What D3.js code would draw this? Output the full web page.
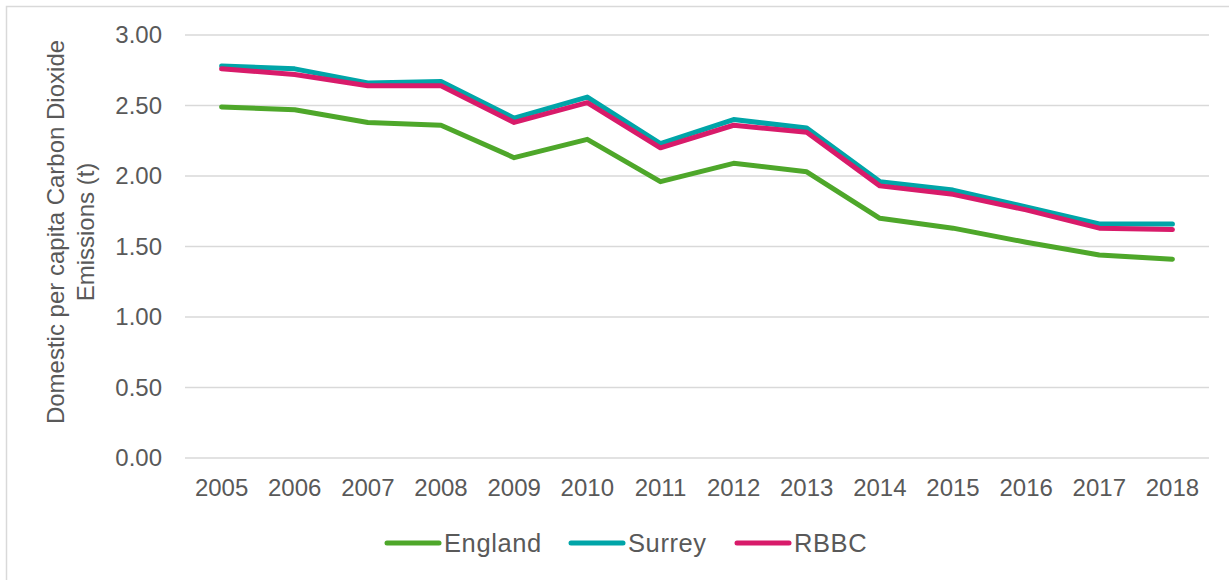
<!DOCTYPE html>
<html>
<head>
<meta charset="utf-8">
<script src="https://cdn.jsdelivr.net/npm/d3@7"></script>
<style>
  html, body { margin: 0; padding: 0; background: #fff; }
  svg { display: block; font-family: "Liberation Sans", Arial, sans-serif; }
</style>
</head>
<body>
<svg id="chart" width="1229" height="580"></svg>
<script>
const years = ["2005","2006","2007","2008","2009","2010","2011","2012","2013","2014","2015","2016","2017","2018"];
const england = [2.49, 2.47, 2.38, 2.36, 2.13, 2.26, 1.96, 2.09, 2.03, 1.70, 1.63, 1.53, 1.44, 1.41];
const surrey  = [2.78, 2.76, 2.66, 2.67, 2.41, 2.56, 2.23, 2.40, 2.34, 1.96, 1.90, 1.78, 1.66, 1.66];
const rbbc    = [2.76, 2.72, 2.64, 2.64, 2.38, 2.52, 2.20, 2.36, 2.31, 1.93, 1.87, 1.76, 1.63, 1.62];
const yTicks = [0, 0.5, 1, 1.5, 2, 2.5, 3];
const seriesNames = ["England", "Surrey", "RBBC"];
const seriesColors = ["#4ea72a", "#00a5a8", "#d81b6a"];
const yTitle = ["Domestic per capita Carbon Dioxide", "Emissions (t)"];

const series = [england, surrey, rbbc];
const svg = d3.select("#chart");
const textColor = "#595959";
const fontSize = "24px";

// frame
svg.append("rect").attr("x", 6.5).attr("y", 6.5).attr("width", 1240).attr("height", 600)
  .attr("fill", "none").attr("stroke", "#d9d9d9").attr("stroke-width", 1.5);

const plotLeft = 185, plotRight = 1209, plotTop = 35, plotBottom = 458;
const x = d3.scaleBand().domain(years).range([plotLeft, plotRight]);
const y = d3.scaleLinear().domain([0, 3]).range([plotBottom, plotTop]);

// gridlines
svg.append("g").selectAll("line").data(yTicks).join("line")
  .attr("x1", plotLeft).attr("x2", plotRight)
  .attr("y1", d => y(d)).attr("y2", d => y(d))
  .attr("stroke", "#d9d9d9").attr("stroke-width", 1.5);

// y axis labels
const yAxis = svg.append("g").attr("transform", `translate(${plotLeft},0)`)
  .call(d3.axisLeft(y).tickValues(yTicks).tickFormat(d3.format(".2f")).tickSize(0).tickPadding(23));
yAxis.select(".domain").remove();
yAxis.selectAll("text").attr("fill", textColor).style("font-size", fontSize)
  .style("font-family", "'Liberation Sans', Arial, sans-serif");

// x axis labels
const xAxis = svg.append("g").attr("transform", `translate(0,${plotBottom})`)
  .call(d3.axisBottom(x).tickSize(0).tickPadding(21));
xAxis.select(".domain").remove();
xAxis.selectAll("text").attr("fill", textColor).style("font-size", fontSize)
  .style("font-family", "'Liberation Sans', Arial, sans-serif");

// y title
const title = svg.append("text")
  .attr("transform", "translate(58,232) rotate(-90)")
  .attr("text-anchor", "middle").attr("fill", textColor)
  .style("font-size", fontSize);
title.selectAll("tspan").data(yTitle).join("tspan")
  .attr("x", 0).attr("dy", (d, i) => i === 0 ? 6 : 30)
  .text(d => d);

// lines
const line = d3.line()
  .x((d, i) => x(years[i]) + x.bandwidth() / 2)
  .y(d => y(d));
series.forEach((s, k) => {
  svg.append("path").datum(s)
    .attr("d", line)
    .attr("fill", "none")
    .attr("stroke", seriesColors[k])
    .attr("stroke-width", 5)
    .attr("stroke-linejoin", "round")
    .attr("stroke-linecap", "round");
});

// legend
const legendX = [385, 569, 735];
const legendY = 543;
const lg = svg.append("g");
seriesNames.forEach((n, k) => {
  lg.append("line").attr("x1", legendX[k] + 2).attr("x2", legendX[k] + 54)
    .attr("y1", legendY).attr("y2", legendY)
    .attr("stroke", seriesColors[k]).attr("stroke-width", 5).attr("stroke-linecap", "round");
  lg.append("text").attr("x", legendX[k] + 59).attr("y", legendY + 9)
    .attr("fill", textColor).style("font-size", "25.5px").style("letter-spacing", "0.6px").text(n);
});
</script>
</body>
</html>
